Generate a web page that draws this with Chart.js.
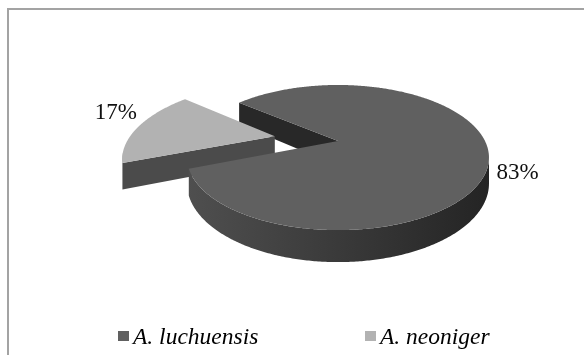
<!DOCTYPE html>
<html>
<head>
<meta charset="utf-8">
<script src="https://cdn.jsdelivr.net/npm/chart.js@4.4.1/dist/chart.umd.min.js"></script>
<style>
  html, body { margin: 0; padding: 0; background: #fff; }
  #wrap { width: 584px; height: 355px; }
</style>
</head>
<body>
<div id="wrap"><canvas id="pieChart" width="584" height="355"></canvas></div>
<script>
// Share of isolates per species
const species = ["A. luchuensis", "A. neoniger"];
const shares = [83, 17];
const pctLabels = ["83%", "17%"];
const topColors = ["#606060", "#b2b2b2"];
const explode = [0, 65];

// 3D look: tilt of the disc, perspective strength, thickness (all relative to radius)
const TILT = 0.468;
const PERSP = 0.228;
const DEPTH = 0.168;

function shade(color, f) {
  const n = parseInt(color.slice(1), 16);
  const r = Math.round(((n >> 16) & 255) * f);
  const g = Math.round(((n >> 8) & 255) * f);
  const b = Math.round((n & 255) * f);
  return "rgb(" + r + "," + g + "," + b + ")";
}

// projection helpers for one arc element
function geom(arc) {
  const R = arc.outerRadius;
  const mid = (arc.startAngle + arc.endAngle) / 2;
  const off = (arc.options.offset || 0) / R;
  const ox = Math.cos(mid) * off, oz = Math.sin(mid) * off;
  const P = (X, Z, h) => {
    const p = 1 / (1 - PERSP * Z);
    return [arc.x + R * X * p, arc.y + R * (TILT * Z + DEPTH * h) * p];
  };
  return {
    mid, oz,
    rim: (t, h) => P(ox + Math.cos(t), oz + Math.sin(t), h),
    hub: (h) => P(ox, oz, h)
  };
}

function poly(ctx, pts, fill) {
  ctx.beginPath();
  ctx.moveTo(pts[0][0], pts[0][1]);
  for (let i = 1; i < pts.length; i++) ctx.lineTo(pts[i][0], pts[i][1]);
  ctx.closePath();
  ctx.fillStyle = fill;
  ctx.fill();
}

const pie3d = {
  id: "pie3d",
  beforeDraw(chart) {
    const ctx = chart.ctx;
    ctx.save();
    ctx.fillStyle = "#fff";
    ctx.fillRect(0, 0, chart.width, chart.height);
    ctx.strokeStyle = "#a3a3a3";
    ctx.lineWidth = 2;
    ctx.strokeRect(8, 9, chart.width + 20, chart.height + 20);
    ctx.restore();
  },
  beforeDatasetsDraw(chart) {
    const ctx = chart.ctx;
    const arcs = chart.getDatasetMeta(0).data;
    const faces = [];
    const tops = [];
    arcs.forEach((arc) => {
      const g = geom(arc);
      const color = arc.options.backgroundColor;
      const a0 = arc.startAngle, a1 = arc.endAngle;
      const steps = Math.max(2, Math.ceil((a1 - a0) / 0.01));
      const ts = [];
      for (let k = 0; k <= steps; k++) ts.push(a0 + (a1 - a0) * k / steps);
      tops.push({ pts: [g.hub(0)].concat(ts.map((t) => g.rim(t, 0))), fill: color });

      // outer wall: the part facing the viewer, one piece with a left-to-right shading
      const seen = ts.filter((t) => Math.sin(t) > PERSP);
      if (seen.length > 1) {
        const upper = seen.map((t) => g.rim(t, 0));
        const lower = seen.map((t) => g.rim(t, 1)).reverse();
        const R = arc.outerRadius;
        const grad = ctx.createLinearGradient(arc.x - R * 1.03, 0, arc.x + R * 1.03, 0);
        grad.addColorStop(0, shade(color, 0.82));
        grad.addColorStop(0.5, shade(color, 0.6));
        grad.addColorStop(1, shade(color, 0.38));
        faces.push({ z: g.oz + 1, pts: upper.concat(lower), fill: grad });
      }
      // cut faces
      if (Math.sin(a0 - Math.PI / 2) > 0) {
        faces.push({ z: g.oz + 0.5 * Math.sin(a0),
          pts: [g.hub(0), g.rim(a0, 0), g.rim(a0, 1), g.hub(1)], fill: shade(color, 0.42) });
      }
      if (Math.sin(a1 + Math.PI / 2) > 0) {
        faces.push({ z: g.oz + 0.5 * Math.sin(a1),
          pts: [g.hub(0), g.rim(a1, 0), g.rim(a1, 1), g.hub(1)], fill: shade(color, 0.42) });
      }
    });
    faces.sort((a, b) => a.z - b.z);
    ctx.save();
    faces.forEach((f) => poly(ctx, f.pts, f.fill));
    tops.forEach((f) => poly(ctx, f.pts, f.fill));
    ctx.restore();
    return false;
  },
  afterDraw(chart) {
    const ctx = chart.ctx;
    const arcs = chart.getDatasetMeta(0).data;
    const nudge = [[8, 21], [-2, -13]];
    ctx.save();
    ctx.font = '23px "Liberation Serif", "Times New Roman", serif';
    ctx.fillStyle = "#111";
    ctx.textBaseline = "middle";
    arcs.forEach((arc, i) => {
      const g = geom(arc);
      const p = g.rim(g.mid, 0);
      ctx.textAlign = Math.cos(g.mid) >= 0 ? "left" : "right";
      ctx.fillText(pctLabels[i], p[0] + nudge[i][0], p[1] + nudge[i][1]);
    });
    // legend
    const legendX = [118, 365];
    ctx.font = 'italic 23.5px "Liberation Serif", "Times New Roman", serif';
    ctx.textAlign = "left";
    ctx.textBaseline = "alphabetic";
    species.forEach((name, i) => {
      ctx.fillStyle = topColors[i];
      ctx.fillRect(legendX[i], 331, 11, 10);
      ctx.fillStyle = "#000";
      ctx.fillText(name, legendX[i] + 15, 344);
    });
    ctx.restore();
  }
};

new Chart(document.getElementById("pieChart"), {
  type: "pie",
  data: {
    labels: species,
    datasets: [{
      data: shares,
      backgroundColor: topColors,
      borderWidth: 0,
      offset: explode
    }]
  },
  options: {
    responsive: false,
    animation: false,
    radius: 147,
    rotation: -50.4,
    layout: { padding: { left: 92, right: 0, top: 0, bottom: 73 } },
    plugins: {
      legend: { display: false },
      tooltip: { enabled: false }
    }
  },
  plugins: [pie3d]
});
</script>
</body>
</html>
